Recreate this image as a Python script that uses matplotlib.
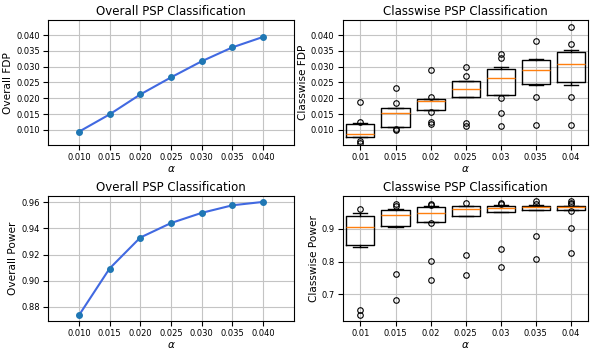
import numpy as np
import matplotlib
matplotlib.use("Agg")
import matplotlib.pyplot as plt
from matplotlib.ticker import MultipleLocator, FormatStrFormatter

alphas = [0.01, 0.015, 0.02, 0.025, 0.03, 0.035, 0.04]
alpha_labels = ['0.01', '0.015', '0.02', '0.025', '0.03', '0.035', '0.04']

overall_fdp = [0.0094, 0.0149, 0.0212, 0.0266, 0.0317, 0.0361, 0.0394]
overall_power = [0.8734, 0.9093, 0.9330, 0.9441, 0.9519, 0.9577, 0.9603]

# per class values (12 classes) for each alpha
fdp_a010 = [0.0059, 0.0064, 0.0076, 0.00769, 0.0080, 0.0085, 0.00896, 0.0105, 0.01197, 0.0121, 0.0126, 0.0187]
fdp_a015 = [0.0100, 0.0103, 0.0110, 0.01108, 0.0135, 0.0150, 0.01558, 0.0163, 0.01669, 0.0170, 0.0185, 0.0233]
fdp_a020 = [0.0118, 0.0125, 0.0157, 0.01655, 0.0175, 0.0188, 0.01916, 0.0195, 0.01971, 0.0198, 0.0205, 0.0289]
fdp_a025 = [0.0112, 0.0123, 0.0204, 0.02048, 0.0215, 0.0225, 0.0235, 0.0245, 0.02541, 0.0255, 0.0269, 0.0300]
fdp_a030 = [0.0113, 0.0154, 0.0201, 0.02153, 0.0235, 0.0258, 0.02674, 0.0285, 0.02913, 0.0299, 0.0328, 0.0339]
fdp_a035 = [0.0114, 0.0203, 0.02415, 0.02444, 0.0255, 0.0280, 0.02982, 0.0312, 0.03194, 0.0321, 0.0323, 0.0381]
fdp_a040 = [0.0114, 0.0203, 0.0242, 0.02527, 0.0275, 0.0302, 0.0316, 0.0335, 0.03438, 0.0353, 0.0371, 0.0426]

pow_a010 = [0.6383, 0.6512, 0.8453, 0.8542, 0.875, 0.898, 0.912, 0.928, 0.9381, 0.945, 0.9488, 0.9607]
pow_a015 = [0.6841, 0.7617, 0.906, 0.910, 0.925, 0.937, 0.9446, 0.950, 0.9556, 0.960, 0.9697, 0.9766]
pow_a020 = [0.7428, 0.8025, 0.916, 0.9239, 0.935, 0.946, 0.9516, 0.960, 0.9659, 0.969, 0.9730, 0.9765]
pow_a025 = [0.7597, 0.8204, 0.9395, 0.9399, 0.950, 0.9575, 0.9619, 0.966, 0.9684, 0.9695, 0.9705, 0.9786]
pow_a030 = [0.7846, 0.8373, 0.950, 0.9509, 0.957, 0.962, 0.9654, 0.968, 0.9703, 0.9715, 0.9760, 0.9786]
pow_a035 = [0.8085, 0.877, 0.957, 0.9579, 0.961, 0.9635, 0.9659, 0.968, 0.9704, 0.9712, 0.9766, 0.9836]
pow_a040 = [0.8254, 0.901, 0.9547, 0.9587, 0.961, 0.9637, 0.9657, 0.967, 0.9681, 0.9746, 0.9796, 0.9846]

class_fdp = [fdp_a010, fdp_a015, fdp_a020, fdp_a025, fdp_a030, fdp_a035, fdp_a040]
class_power = [pow_a010, pow_a015, pow_a020, pow_a025, pow_a030, pow_a035, pow_a040]

plt.rcParams['font.size'] = 7
plt.rcParams['axes.titlesize'] = 8.5
plt.rcParams['axes.labelsize'] = 7.6
plt.rcParams['xtick.labelsize'] = 6
plt.rcParams['ytick.labelsize'] = 6
plt.rcParams['xtick.major.pad'] = 2.5
plt.rcParams['ytick.major.pad'] = 2.5
plt.rcParams['grid.color'] = '#c4c4c4'

fig, axes = plt.subplots(2, 2, figsize=(5.95, 3.54), dpi=100)
fig.subplots_adjust(left=0.081, right=0.989, bottom=0.093, top=0.943, wspace=0.2, hspace=0.41)

def line_panel(ax, y, ylabel):
    ax.plot(alphas, y, color='royalblue', linewidth=1.5, zorder=2)
    ax.scatter(alphas, y, s=16, color='tab:blue', zorder=3)
    ax.set_xticks(alphas)
    ax.set_xlim(0.005, 0.045)
    ax.grid(True)
    ax.set_axisbelow(True)
    ax.set_title('Overall PSP Classification', pad=4)
    ax.set_xlabel(r'$\alpha$', labelpad=1.5)
    ax.set_ylabel(ylabel, labelpad=2)

def box_panel(ax, data, ylabel):
    ax.boxplot(data, whis=0.12, widths=0.8,
               flierprops=dict(marker='o', markersize=4, markerfacecolor='none', markeredgewidth=0.8),
               medianprops=dict(color='tab:orange', linewidth=1))
    ax.set_xticks(range(1, len(alphas) + 1))
    ax.set_xticklabels(alpha_labels)
    ax.grid(True)
    ax.set_axisbelow(True)
    ax.set_title('Classwise PSP Classification', pad=4)
    ax.set_xlabel(r'$\alpha$', labelpad=1.5)
    ax.set_ylabel(ylabel, labelpad=2)

line_panel(axes[0, 0], overall_fdp, 'Overall FDP')
box_panel(axes[0, 1], class_fdp, 'Classwise FDP')
for ax in axes[0]:
    ax.set_ylim(0.0052, 0.0447)
    ax.yaxis.set_major_locator(MultipleLocator(0.005))
    ax.yaxis.set_major_formatter(FormatStrFormatter('%.3f'))

line_panel(axes[1, 0], overall_power, 'Overall Power')
box_panel(axes[1, 1], class_power, 'Classwise Power')
axes[1, 1].set_ylim(0.619, 0.999)

fig.savefig('out.png', dpi=100)
